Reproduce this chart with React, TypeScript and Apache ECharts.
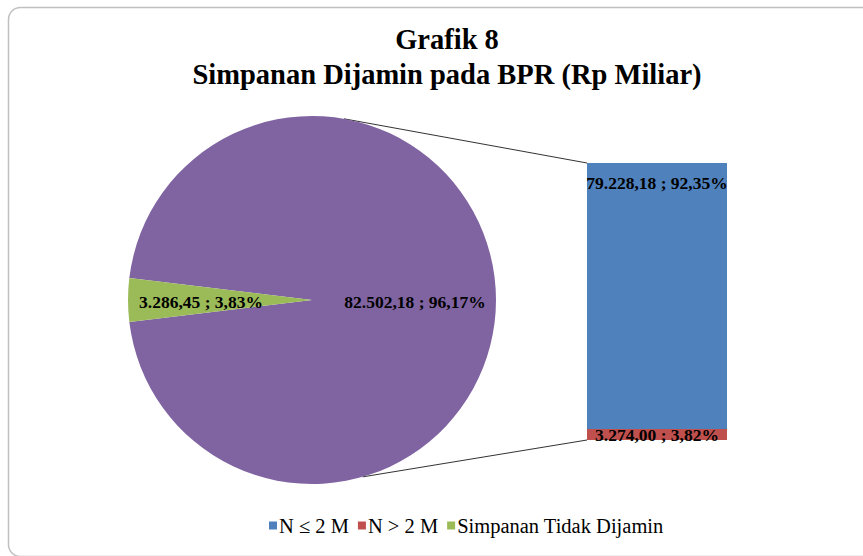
import React, { useEffect, useRef } from "react";
import * as echarts from "echarts";

const pieNames = ["Simpanan Dijamin", "Simpanan Tidak Dijamin"];
const pieValues = [82502.18, 3286.45];
const piePercents = ["96,17%", "3,83%"];
const pieLabels = ["82.502,18", "3.286,45"];

const barNames = ["N ≤ 2 M", "N > 2 M"];
const barValues = [79228.18, 3274.0];
const barLabels = ["79.228,18", "3.274,00"];
const barPercents = ["92,35%", "3,82%"];

const legendNames = ["N ≤ 2 M", "N > 2 M", "Simpanan Tidak Dijamin"];

const COLORS = {
  purple: "#8064A2",
  green: "#9BBB59",
  blue: "#4F81BD",
  red: "#C0504D",
};

const FONT = "'Liberation Serif', 'DejaVu Serif', serif";

export default function App() {
  const ref = useRef<HTMLDivElement>(null);

  useEffect(() => {
    if (!ref.current) return;
    const chart = echarts.init(ref.current, undefined, { renderer: "svg" });

    const total = pieValues.reduce((a, b) => a + b, 0);
    const greenAngle = (360 * pieValues[1]) / total;
    const startAngle = 180 - greenAngle / 2;

    const cx = 312;
    const cy = 300;
    const r = 184;
    const barLeft = 587;
    const barTop = 163;
    const barW = 140;
    const barH = 277;

    const deg = Math.PI / 180;
    const topPt = [cx + r * Math.cos(-80 * deg), cy + r * Math.sin(-80 * deg)];
    const botPt = [cx + r * Math.cos(74 * deg), cy + r * Math.sin(74 * deg)];

    chart.setOption({
      animation: false,
      backgroundColor: "#ffffff",
      title: {
        text: "Grafik 8\nSimpanan Dijamin pada BPR (Rp Miliar)",
        left: 442,
        top: 17,
        textAlign: "center",
        textStyle: {
          fontFamily: FONT,
          fontSize: 28.5,
          fontWeight: "bold",
          lineHeight: 35,
          color: "#000",
        },
      },
      legend: {
        data: legendNames,
        left: 264,
        top: 510,
        icon: "rect",
        itemWidth: 8,
        itemHeight: 8,
        itemGap: 9,
        textStyle: { fontFamily: FONT, fontSize: 20.5, color: "#000", padding: [0, 0, 0, -3] },
      },
      graphic: [
        {
          type: "rect",
          shape: { x: 8.5, y: 7.5, width: 880, height: 549, r: 12 },
          style: { fill: "none", stroke: "#c0c0c0", lineWidth: 1.5 },
          silent: true,
          z: -10,
        },
        {
          type: "line",
          shape: { x1: topPt[0], y1: topPt[1], x2: barLeft, y2: barTop },
          style: { stroke: "#333", lineWidth: 1 },
          z: 0,
        },
        {
          type: "line",
          shape: { x1: botPt[0], y1: botPt[1], x2: barLeft, y2: barTop + barH },
          style: { stroke: "#333", lineWidth: 1 },
          z: 0,
        },
      ],
      grid: { left: barLeft, top: barTop, width: barW, height: barH },
      xAxis: { type: "category", data: ["bar"], show: false },
      yAxis: { type: "value", min: 0, max: pieValues[0], show: false },
      series: [
        {
          type: "pie",
          center: [cx, cy],
          radius: r,
          startAngle,
          clockwise: true,
          data: pieNames.map((n, i) => ({
            name: n,
            value: pieValues[i],
            itemStyle: { color: i === 0 ? COLORS.purple : COLORS.green },
          })),
          label: {
            show: true,
            position: "inside",
            formatter: (p: any) => `${pieLabels[p.dataIndex]} ; ${piePercents[p.dataIndex]}`,
            fontFamily: FONT,
            fontSize: 17.5,
            fontWeight: "bold",
            color: "#000",
          },
          labelLayout: (p: any) => ({ dx: p.dataIndex === 0 ? 8 : -16, dy: 2 }),
          emphasis: { disabled: true },
          z: 2,
        },
        ...barNames.map((n, i) => ({
          type: "bar",
          name: n,
          stack: "s",
          barWidth: "100%",
          data: [barValues[i]],
          itemStyle: { color: i === 0 ? COLORS.blue : COLORS.red },
          label: {
            show: true,
            position: i === 0 ? "insideTop" : "inside",
            distance: 11,
            formatter: () => `${barLabels[i]} ; ${barPercents[i]}`,
            fontFamily: FONT,
            fontSize: 17.5,
            fontWeight: "bold",
            color: "#000",
            overflow: "none",
          },
          emphasis: { disabled: true },
        })),
      ].reverse(),
    });

    return () => chart.dispose();
  }, []);

  return (
    <div
      ref={ref}
      style={{ position: "absolute", left: 0, top: 0, width: 863, height: 556 }}
    />
  );
}
